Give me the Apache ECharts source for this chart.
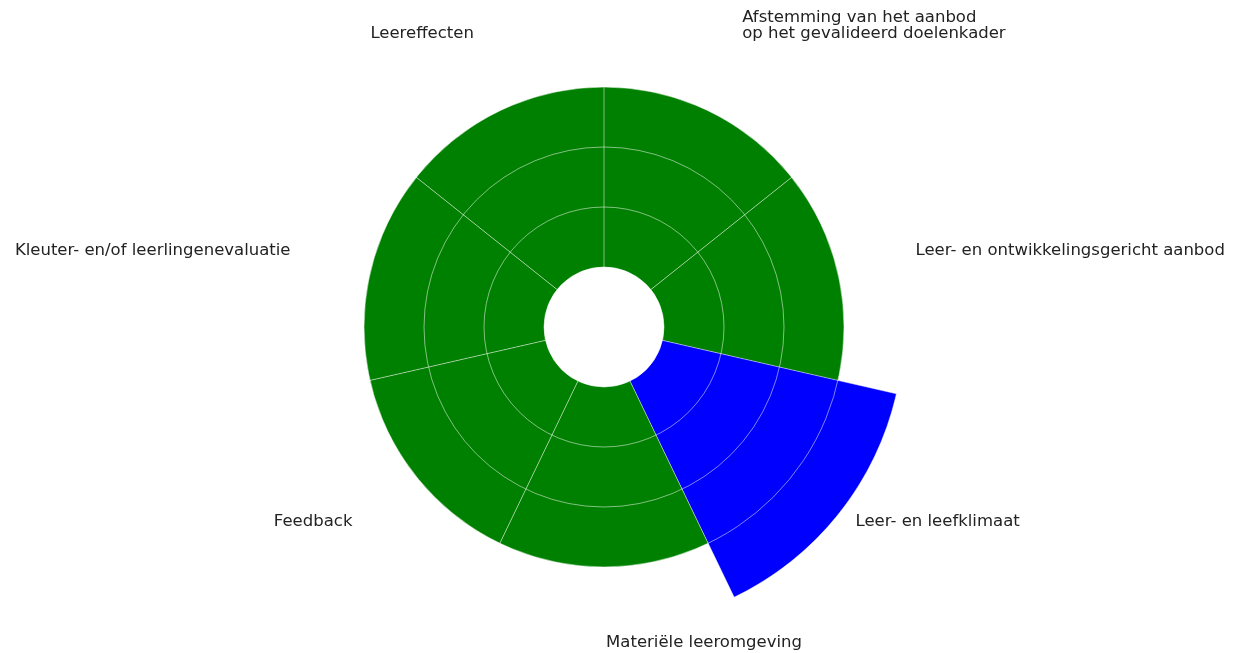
<!DOCTYPE html>
<html>
<head>
    <meta charset="UTF-8">
    <title></title>
    <script src="https://cdn.jsdelivr.net/npm/echarts@6/dist/echarts.min.js"></script>
</head>
<body style="margin:0;background:#fff;">
<div id="main" style="width: 1243px;height:653px;"></div>
<script type="text/javascript">
    // categories clockwise from the top
    var categories = [
        'Afstemming van het aanbod\nop het gevalideerd doelenkader',
        'Leer- en ontwikkelingsgericht aanbod',
        'Leer- en leefklimaat',
        'Materiële leeromgeving',
        'Feedback',
        'Kleuter- en/of leerlingenevaluatie',
        'Leereffecten'
    ];
    var scores = [3, 3, 4, 3, 3, 3, 3];
    var highlighted = 'Leer- en leefklimaat';
    var radiusTicks = [0, 4, 1];   // min, max, interval

    var myChart = echarts.init(document.getElementById('main'));

    // label nudges, one rich style per category: [top, right, bottom, left]
    var labelPad = [
        [0, 0, 29, 8],
        [0, 0, 20, 19],
        [0, 0, 0, 17],
        [16, 0, 0, 200],
        [0, 17, 0, 0],
        [0, 21, 20, 0],
        [0, 0, 29, 0]
    ];
    var rich = {};
    labelPad.forEach(function (p, i) {
        rich['l' + i] = {
            padding: p,
            fontFamily: 'DejaVu Sans',
            fontSize: 16.5,
            lineHeight: 16,
            color: '#222'
        };
    });

    var barData = scores.map(function (v, i) {
        return {
            value: v,
            itemStyle: {color: categories[i] === highlighted ? '#0000ff' : '#008000'}
        };
    });

    var option = {
        animation: false,
        polar: {
            center: [604, 327],
            radius: [60, 300]
        },
        angleAxis: {
            type: 'category',
            data: categories,
            startAngle: 90,
            clockwise: true,
            z: 10,
            axisLine: {show: false},
            axisTick: {show: false},
            axisLabel: {
                margin: 0,
                fontFamily: 'DejaVu Sans',
                fontSize: 16.5,
                lineHeight: 16,
                color: '#222',
                formatter: function (value, index) {
                    return value.split('\n').map(function (s) {
                        return '{l' + index + '|' + s + '}';
                    }).join('\n');
                },
                rich: rich
            },
            splitLine: {
                show: true,
                lineStyle: {color: 'rgba(255,255,255,0.5)', width: 1}
            }
        },
        radiusAxis: {
            min: radiusTicks[0],
            max: radiusTicks[1],
            interval: radiusTicks[2],
            z: 10,
            axisLine: {show: false},
            axisTick: {show: false},
            axisLabel: {show: false},
            splitLine: {
                show: true,
                lineStyle: {color: 'rgba(255,255,255,0.5)', width: 1}
            }
        },
        series: [{
            type: 'bar',
            coordinateSystem: 'polar',
            barCategoryGap: '0%',
            data: barData
        }]
    };
    myChart.setOption(option);
</script>
</body>
</html>
